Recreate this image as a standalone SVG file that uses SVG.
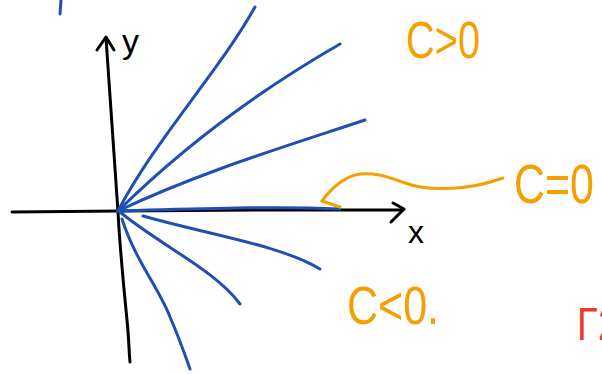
<svg xmlns="http://www.w3.org/2000/svg" width="602" height="374" viewBox="0 0 602 374">
<style>
.ax{fill:none;stroke:#000;stroke-width:3;stroke-linecap:round;stroke-linejoin:round}
.bl{fill:none;stroke:#1f4fb5;stroke-width:3;stroke-linecap:round}
.or{fill:none;stroke:#f59f00;stroke-width:3;stroke-linecap:round;stroke-linejoin:round}
.lab{font-family:"Liberation Sans",Arial,sans-serif}
.ot{fill:#f59f00}
</style>
<rect width="602" height="374" fill="#fff"/>
<g id="axes">
<path class="ax" d="M12,212 L120,211 L260,210 L403,210"/>
<path class="ax" d="M393,203 L404,209 L391,222"/>
<path class="ax" d="M106,38 C110,100 114,160 118,212 C120,250 124,290 127,320 C129,340 129,352 130,362"/>
<path class="ax" d="M97,50 L106,37 L114,50"/>
<text class="lab" x="408" y="243" font-size="32">x</text>
<text class="lab" x="122" y="53" font-size="34">y</text>
</g>
<g id="curves">
<path class="bl" d="M118,211 C155,140 220,70 255,7"/>
<path class="bl" d="M118,211 C185,145 260,90 340,44"/>
<path class="bl" d="M118,211 C200,172 290,145 365,120"/>
<path class="bl" d="M118,211 C200,209 270,206 340,209"/>
<path class="bl" d="M143,216 C210,235 280,245 320,269"/>
<path class="bl" d="M120,212 C160,245 215,270 240,304"/>
<path class="bl" d="M122,219 C135,260 160,290 170,317 C180,340 185,355 190,369"/>
<path class="bl" d="M61,0 L60,14"/>
</g>
<g id="connectors">
<path class="or" d="M503,178 C470,190 430,192 405,183 C388,177 372,171 355,175 C342,179 330,190 322,201"/>
<path class="or" d="M322,201 L340,207"/>
</g>
<g id="labels">
<text class="lab ot" x="406" y="58" font-size="52" textLength="74" lengthAdjust="spacingAndGlyphs">C&gt;0</text>
<text class="lab ot" x="514" y="203" font-size="56" textLength="80" lengthAdjust="spacingAndGlyphs">C=0</text>
<text class="lab ot" x="347" y="324" font-size="54" textLength="92" lengthAdjust="spacingAndGlyphs">C&lt;0.</text>
<text class="lab" x="577" y="340" font-size="46" fill="#e8392a" textLength="42" lengthAdjust="spacingAndGlyphs">Γ2</text>
</g>
</svg>
